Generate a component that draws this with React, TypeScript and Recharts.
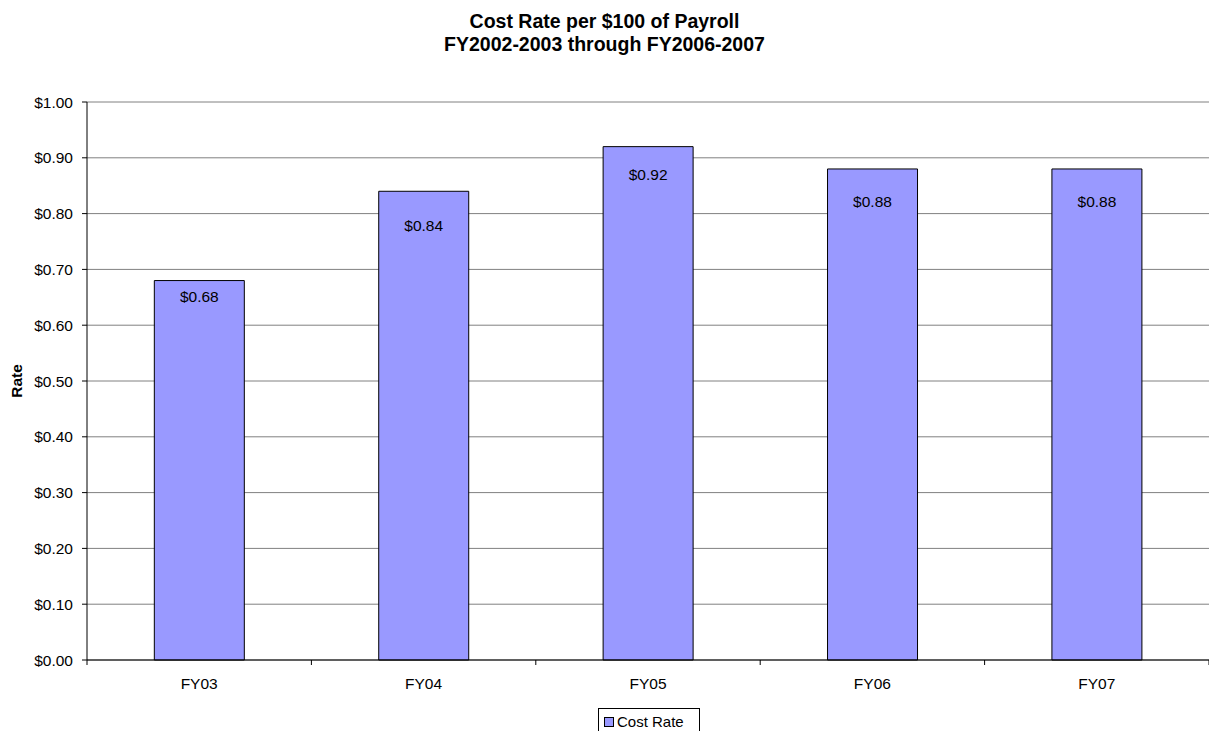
import React from "react";
import { BarChart, Bar, XAxis, YAxis, CartesianGrid, LabelList } from "recharts";

// Fiscal years shown along the bottom axis
const categories = ["FY03", "FY04", "FY05", "FY06", "FY07"];
// Cost rate per $100 of payroll, one value per fiscal year
const costRate = [0.68, 0.84, 0.92, 0.88, 0.88];
// Value-axis ticks
const yTicks = [0, 0.1, 0.2, 0.3, 0.4, 0.5, 0.6, 0.7, 0.8, 0.9, 1.0];
const titleLines = ["Cost Rate per $100 of Payroll", "FY2002-2003 through FY2006-2007"];
const seriesName = "Cost Rate";

// Vertical offset of each value label below its bar's top edge
const labelDrop = [15.5, 34, 28, 33, 33];

const data = categories.map((fy, i) => ({ fy, rate: costRate[i] }));

const W = 1209;
const H = 731;
const PLOT_LEFT = 87;
const PLOT_TOP = 102;
const PLOT_BOTTOM = 660;
const CAT_W = (W - PLOT_LEFT) / categories.length;
const FONT = "'Liberation Sans', Arial, Helvetica, sans-serif";
const BAR_FILL = "#9999FF";

const money = (v: number) => `$${v.toFixed(2)}`;

const XTick = (props: any) => {
  const { x, payload, index } = props;
  const base = PLOT_BOTTOM;
  return (
    <g>
      {index === 0 && (
        <line x1={x - CAT_W / 2} x2={x - CAT_W / 2} y1={base} y2={base + 5} stroke="#000" />
      )}
      <line x1={x + CAT_W / 2} x2={x + CAT_W / 2} y1={base} y2={base + 5} stroke="#000" />
      <text x={x} y={base + 28.5} textAnchor="middle" fontSize={15.5} fontFamily={FONT} fill="#000">
        {payload.value}
      </text>
    </g>
  );
};

const ValueLabel = (props: any) => {
  const { x, y, width, value, index } = props;
  return (
    <text
      x={x + width / 2}
      y={y + labelDrop[index]}
      textAnchor="middle"
      dominantBaseline="central"
      fontSize={15.5}
      fontFamily={FONT}
      fill="#000"
    >
      {money(value)}
    </text>
  );
};

const RateLabel = (props: any) => {
  const { viewBox } = props;
  const cx = 16;
  const cy = viewBox.y + viewBox.height / 2;
  return (
    <text
      x={cx}
      y={cy}
      transform={`rotate(-90 ${cx} ${cy})`}
      textAnchor="middle"
      dominantBaseline="central"
      fontSize={15.5}
      fontWeight="bold"
      fontFamily={FONT}
      fill="#000"
    >
      Rate
    </text>
  );
};

export default function App() {
  return (
    <div style={{ position: "absolute", left: 0, top: 0, width: W, height: H, background: "#fff", overflow: "hidden" }}>
      <BarChart
        width={W}
        height={H}
        data={data}
        margin={{ top: PLOT_TOP, right: 0, bottom: 0, left: 0 }}
        barCategoryGap="30%"
      >
        <CartesianGrid vertical={false} stroke="#808080" strokeWidth={1} />
        <XAxis
          dataKey="fy"
          height={H - PLOT_BOTTOM}
          axisLine={{ stroke: "#000" }}
          tickLine={false}
          tick={<XTick />}
          interval={0}
        />
        <YAxis
          width={PLOT_LEFT}
          domain={[0, 1]}
          ticks={yTicks}
          tickFormatter={money}
          axisLine={{ stroke: "#000" }}
          tickLine={{ stroke: "#000" }}
          tickSize={5}
          tickMargin={9}
          tick={{ fontSize: 15.5, fontFamily: FONT, fill: "#000" }}
          label={<RateLabel />}
          interval={0}
        />
        <Bar dataKey="rate" name={seriesName} fill={BAR_FILL} stroke="#000" strokeWidth={1} isAnimationActive={false}>
          <LabelList dataKey="rate" content={<ValueLabel />} />
        </Bar>
      </BarChart>

      <svg width={W} height={70} style={{ position: "absolute", left: 0, top: 0 }}>
        {titleLines.map((t, i) => (
          <text
            key={i}
            x={W / 2}
            y={28 + i * 23}
            textAnchor="middle"
            fontSize={19.5}
            fontWeight="bold"
            fontFamily={FONT}
            fill="#000"
          >
            {t}
          </text>
        ))}
      </svg>

      <svg width={110} height={26} style={{ position: "absolute", left: 594, top: 705 }}>
        <rect x={4.5} y={3.5} width={101} height={40} fill="#fff" stroke="#000" />
        <rect x={10.5} y={12.5} width={9} height={9} fill={BAR_FILL} stroke="#000" />
        <text x={23} y={22} fontSize={15} fontFamily={FONT} fill="#000">
          {seriesName}
        </text>
      </svg>
    </div>
  );
}
